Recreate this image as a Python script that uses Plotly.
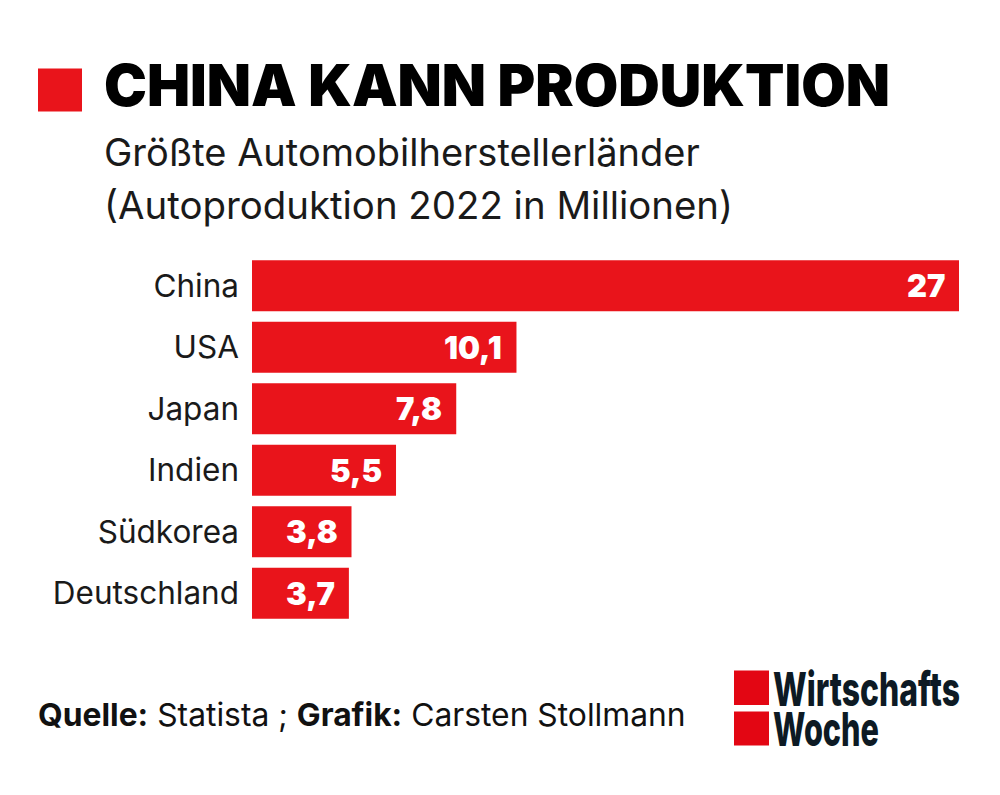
import plotly.graph_objects as go

# Data
laender = ['China', 'USA', 'Japan', 'Indien', 'Südkorea', 'Deutschland']
produktion = [27, 10.1, 7.8, 5.5, 3.8, 3.7]
werte_text = ['27', '10,1', '7,8', '5,5', '3,8', '3,7']

ROT = '#e9141b'
W, H = 1000, 795
L, R, T, B = 252, 41, 254.7, 170.7


# paper coordinates run over the plot area, so convert from picture pixels
def px(x):
    return (x - L) / (W - L - R)


def py(y):
    return 1 - (y - T) / (H - T - B)


fig = go.Figure()

fig.add_trace(go.Bar(
    x=produktion,
    y=laender,
    orientation='h',
    marker=dict(color=ROT, line=dict(width=0)),
    showlegend=False,
    hoverinfo='skip',
))

# Value labels inside the bars
for land, wert, label in zip(laender, produktion, werte_text):
    fig.add_annotation(
        x=wert, y=land, text=label, showarrow=False,
        xanchor='right', xshift=-12, yshift=0,
        font=dict(family='Inter', size=31, color='white', weight=900),
    )


def text_px(x, y, text, size, weight=400, color='#111111', family='Inter'):
    fig.add_annotation(
        x=px(x), y=py(y), xref='paper', yref='paper', text=text, showarrow=False,
        xanchor='left', yanchor='middle', align='left', borderpad=0,
        font=dict(family=family, size=size, color=color, weight=weight),
    )


def rect_px(x0, y0, x1, y1, color):
    fig.add_shape(
        type='rect', xref='paper', yref='paper',
        x0=px(x0), x1=px(x1), y0=py(y0), y1=py(y1),
        fillcolor=color, line=dict(width=0),
    )


# Title block
rect_px(38, 68, 82, 111, ROT)
text_px(103, 84, 'CHINA KANN PRODUKTION', 57.5, weight=900, color='#000000')
text_px(103, 152, 'Größte Automobilherstellerländer', 38, color='#1a1a1a')
text_px(103, 205, '(Autoproduktion 2022 in Millionen)', 38.4, color='#1a1a1a')

# Source line
text_px(37, 715, '<b>Quelle:</b> Statista ; <b>Grafik:</b> Carsten Stollmann', 31.8, color='#111111')

# Logo
rect_px(734, 671, 769, 705.5, '#e30613')
rect_px(734, 712, 769, 746, '#e30613')
text_px(772, 689, 'Wirtschafts', 47, weight=800, color='#0d1a24')
text_px(772, 729, 'Woche', 47, weight=800, color='#0d1a24')

fig.update_layout(
    width=W,
    height=H,
    autosize=False,
    paper_bgcolor='white',
    plot_bgcolor='white',
    margin=dict(l=L, r=R, t=T, b=B, pad=0),
    bargap=0.172,
    xaxis=dict(range=[0, 27], visible=False, fixedrange=True),
    yaxis=dict(
        autorange='reversed',
        showgrid=False,
        showline=False,
        zeroline=False,
        ticks='',
        ticklabelstandoff=12,
        tickfont=dict(family='Inter', size=31.5, color='#1a1a1a'),
    ),
)

# No body margin, and squeeze the logo words since no condensed font is installed
post_js = """
document.body.style.margin = '0';
var logoWidth = {'Wirtschafts': 187, 'Woche': 106};
function squeezeLogo() {
  document.querySelectorAll('text.annotation-text').forEach(function (t) {
    var w = logoWidth[t.textContent];
    if (!w) return;
    t.removeAttribute('transform');
    var b = t.getBBox();
    t.setAttribute('transform', 'translate(' + b.x + ',0) scale(' + (w / b.width) + ',1) translate(' + (-b.x) + ',0)');
  });
}
squeezeLogo();
setTimeout(squeezeLogo, 100);
"""

fig.write_html("out.html", post_script=post_js, config=dict(displayModeBar=False))
